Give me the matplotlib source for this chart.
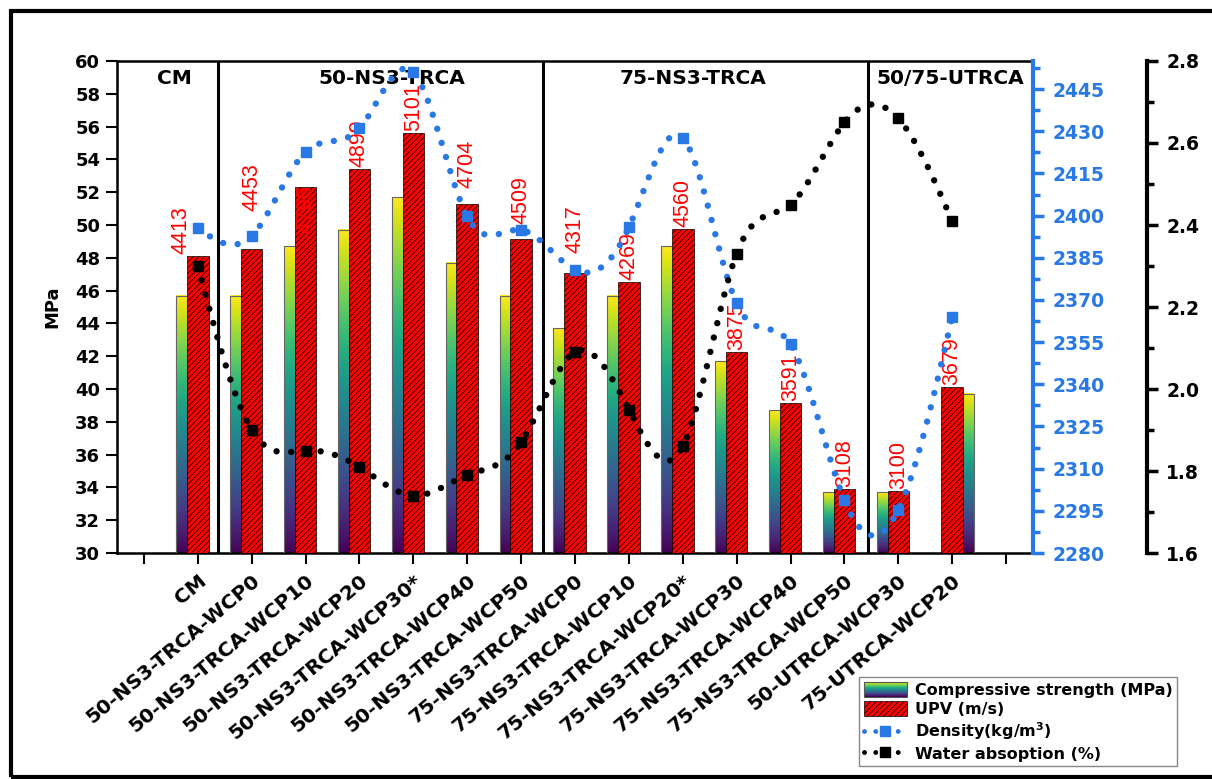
import numpy as np
import matplotlib
matplotlib.use('Agg')
import matplotlib.pyplot as plt
from matplotlib.patches import Rectangle, Patch
from matplotlib.lines import Line2D
from matplotlib.legend_handler import HandlerBase
from matplotlib.ticker import MultipleLocator, AutoMinorLocator, FormatStrFormatter

plt.rcParams['font.family'] = ['DejaVu Sans']
plt.rcParams['font.weight'] = 'bold'
plt.rcParams['hatch.linewidth'] = 0.5

# Datos
categorias = ['CM', '50-NS3-TRCA-WCP0', '50-NS3-TRCA-WCP10', '50-NS3-TRCA-WCP20',
              '50-NS3-TRCA-WCP30*', '50-NS3-TRCA-WCP40', '50-NS3-TRCA-WCP50',
              '75-NS3-TRCA-WCP0', '75-NS3-TRCA-WCP10', '75-NS3-TRCA-WCP20*',
              '75-NS3-TRCA-WCP30', '75-NS3-TRCA-WCP40', '75-NS3-TRCA-WCP50',
              '50-UTRCA-WCP30', '75-UTRCA-WCP20']
resistencia = [45.7, 45.7, 48.7, 49.7, 51.7, 47.7, 45.7, 43.7, 45.7, 48.7, 41.7, 38.7, 33.7, 33.7, 39.7]
upv = [4413, 4453, 4796, 4899, 5101, 4704, 4509, 4317, 4269, 4560, 3875, 3591, 3108, 3100, 3679]
densidad = [2395.6, 2392.8, 2422.7, 2431.0, 2451.0, 2399.7, 2394.9, 2380.7, 2395.8, 2427.7,
            2368.8, 2354.2, 2298.8, 2295.3, 2363.9]
absorcion = [2.30, 1.90, 1.85, 1.81, 1.74, 1.79, 1.87, 2.09, 1.95, 1.86, 2.33, 2.45, 2.65, 2.66, 2.41]
grupos = ['CM', '50-NS3-TRCA', '75-NS3-TRCA', '50/75-UTRCA']

# Estilo
AZUL = '#2878E6'
ROJO = '#FF0000'
ESCALA_UPV = 91.7  # m/s por MPa en el eje oculto de UPV
desfase_grad = [-0.2] * 14 + [0.2]
etiqueta_dx = [-0.31] + [0] * 14
etiqueta_pad = [2, 38, -46, 2, 2, 16, 15, 20, 2, 2, 2, 2, 2, 2, 2]  # px
pos_grupos = [-0.44, 3.61, 9.2, 13.96]
separadores = [0.38, 6.41, 12.44]


def spline_natural(x, y, xs):
    x = np.asarray(x, float)
    y = np.asarray(y, float)
    n = len(x)
    h = np.diff(x)
    A = np.zeros((n, n))
    b = np.zeros(n)
    A[0, 0] = A[-1, -1] = 1
    for i in range(1, n - 1):
        A[i, i - 1] = h[i - 1]
        A[i, i] = 2 * (h[i - 1] + h[i])
        A[i, i + 1] = h[i]
        b[i] = 6 * ((y[i + 1] - y[i]) / h[i] - (y[i] - y[i - 1]) / h[i - 1])
    M = np.linalg.solve(A, b)
    k = np.clip(np.searchsorted(x, xs) - 1, 0, n - 2)
    t1 = x[k + 1] - xs
    t0 = xs - x[k]
    hk = h[k]
    return (M[k] * t1 ** 3 / (6 * hk) + M[k + 1] * t0 ** 3 / (6 * hk)
            + (y[k] / hk - M[k] * hk / 6) * t1 + (y[k + 1] / hk - M[k + 1] * hk / 6) * t0)


class GradientProxy:
    pass


class GradientHandler(HandlerBase):
    def create_artists(self, legend, orig_handle, xdescent, ydescent, width, height, fontsize, trans):
        cmap = plt.get_cmap('viridis')
        n = 30
        arts = []
        for i in range(n):
            arts.append(Rectangle((-xdescent, -ydescent + i * height / n), width, height / n,
                                  facecolor=cmap(i / (n - 1)), edgecolor='none', transform=trans))
        arts.append(Rectangle((-xdescent, -ydescent), width, height, facecolor='none',
                              edgecolor='#555555', lw=0.8, transform=trans))
        return arts


x = np.arange(len(categorias))
fig = plt.figure(figsize=(12.12, 7.79), dpi=100)
ax = fig.add_axes([0.0965, 0.2901, 0.7558, 0.6316])

# Barras de resistencia con degradado
barras = ax.bar(x + np.array(desfase_grad), np.array(resistencia) - 30, bottom=30, width=0.4,
                facecolor='none', edgecolor='#666666', lw=0.8, zorder=3)
grad = np.linspace(0, 1, 256).reshape(-1, 1)
for b in barras:
    x0, y0 = b.get_x(), b.get_y()
    ax.imshow(grad, cmap='viridis', origin='lower', aspect='auto', zorder=2,
              extent=(x0, x0 + b.get_width(), y0, y0 + b.get_height()))

ax.set_xlim(-1.5, 15.5)
ax.set_ylim(30, 60)
ax.yaxis.set_major_locator(MultipleLocator(2))
ax.set_xticks(range(-1, 16))
ax.set_xticklabels([''] + categorias + [''])
plt.setp(ax.get_xticklabels(), rotation=40, ha='right', va='top', rotation_mode='anchor',
         fontsize=14.5, fontweight='bold')
ax.tick_params(axis='both', direction='out', length=8, width=1.5, pad=4)
ax.tick_params(axis='y', labelsize=13)
ax.tick_params(axis='x', pad=5)
ax.set_ylabel('MPa', fontsize=13, fontweight='bold', labelpad=10)
for s in ['left', 'bottom', 'top']:
    ax.spines[s].set_linewidth(1.8)
ax.spines['right'].set_visible(False)

for sx in separadores:
    ax.axvline(sx, color='black', lw=2.2, zorder=4)
for gx, g in zip(pos_grupos, grupos):
    ax.text(gx, 58.95, g, ha='center', va='center', fontsize=14.5, fontweight='bold', zorder=5)

# Barras UPV en eje oculto
ax_upv = ax.twinx()
ymin_upv, ymax_upv = 30 * ESCALA_UPV, 60 * ESCALA_UPV
ax_upv.set_ylim(ymin_upv, ymax_upv)
ax_upv.bar(x, np.array(upv) - ymin_upv, bottom=ymin_upv, width=0.4, color=ROJO,
           edgecolor='black', lw=0.5, hatch='//////')
for i, v in enumerate(upv):
    ax_upv.annotate(str(v), (x[i] + etiqueta_dx[i], v), xytext=(0, etiqueta_pad[i] * 0.72),
                    textcoords='offset points', rotation=90, ha='center', va='bottom',
                    color=ROJO, fontsize=15.5, fontweight='normal',
                    family=['Liberation Sans Narrow', 'Liberation Sans'])
ax_upv.set_axis_off()

# Densidad
ax_den = ax.twinx()
xs = np.linspace(0, len(categorias) - 1, 500)
ax_den.plot(xs, spline_natural(x, densidad, xs), color=AZUL, lw=4.6,
            linestyle=(0, (0.01, 2.3)), dash_capstyle='round')
ax_den.plot(x, densidad, 's', color=AZUL, ms=7.5)
ax_den.set_ylim(2280, 2455)
ax_den.yaxis.set_major_locator(MultipleLocator(15))
ax_den.yaxis.set_minor_locator(AutoMinorLocator(2))
ax_den.tick_params(axis='y', which='major', colors=AZUL, direction='out', length=8, width=2.5,
                   labelsize=13.5, pad=6)
ax_den.tick_params(axis='y', which='minor', colors=AZUL, direction='out', length=5, width=2.5)
for s in ['left', 'top', 'bottom']:
    ax_den.spines[s].set_visible(False)
ax_den.spines['right'].set_color(AZUL)
ax_den.spines['right'].set_linewidth(3)

# Absorción de agua
ax_wa = ax.twinx()
ax_wa.plot(xs, spline_natural(x, absorcion, xs), color='black', lw=4.6,
           linestyle=(0, (0.01, 2.3)), dash_capstyle='round')
ax_wa.plot(x, absorcion, 's', color='black', ms=7.5)
ax_wa.set_ylim(1.6, 2.8)
ax_wa.yaxis.set_major_locator(MultipleLocator(0.2))
ax_wa.yaxis.set_minor_locator(AutoMinorLocator(2))
ax_wa.yaxis.set_major_formatter(FormatStrFormatter('%.1f'))
ax_wa.spines['right'].set_position(('outward', 82))
ax_wa.spines['right'].set_linewidth(3)
for s in ['left', 'top', 'bottom']:
    ax_wa.spines[s].set_visible(False)
ax_wa.tick_params(axis='y', which='major', direction='out', length=8, width=2.5,
                  labelsize=13.5, pad=6)
ax_wa.tick_params(axis='y', which='minor', direction='out', length=5, width=2.5)

# Leyenda
handles = [GradientProxy(),
           Patch(facecolor=ROJO, edgecolor='black', lw=0.5, hatch='//////'),
           Line2D([], [], color=AZUL, lw=3.5, linestyle=(0, (0.01, 2.3)), dash_capstyle='round',
                  marker='s', ms=7),
           Line2D([], [], color='black', lw=3.5, linestyle=(0, (0.01, 2.3)), dash_capstyle='round',
                  marker='s', ms=7)]
labels = ['Compressive strength (MPa)', 'UPV (m/s)', 'Density(kg/m$^3$)', 'Water absoption (%)']
fig.legend(handles, labels, handler_map={GradientProxy: GradientHandler()},
           loc='upper left', bbox_to_anchor=(0.7087, 0.131), borderaxespad=0,
           prop={'weight': 'bold', 'size': 11.5}, handlelength=2.7, handleheight=1.05,
           labelspacing=0.22, borderpad=0.3, handletextpad=0.5, numpoints=1,
           fancybox=False, framealpha=1, edgecolor='#888888')

# Marco exterior
fig.patches.append(Rectangle((11 / 1212, 2 / 779), 1.2, (779 - 13) / 779, transform=fig.transFigure,
                             facecolor='none', edgecolor='black', lw=3, clip_on=False))

fig.savefig('out.png', dpi=100)
